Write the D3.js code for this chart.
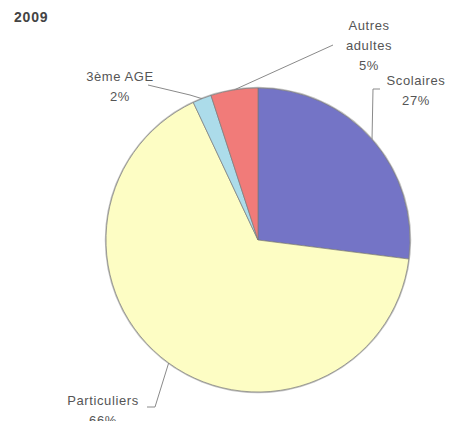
<!DOCTYPE html>
<html>
<head>
<meta charset="utf-8">
<script src="https://cdn.jsdelivr.net/npm/d3@7"></script>
<style>
  body { margin: 0; background: #fff; }
  text { font-family: "Liberation Sans", Arial, sans-serif; fill: #555; }
</style>
</head>
<body>
<svg id="chart" width="452" height="421"></svg>
<script>
// slices, clockwise from 12 o'clock
var categories = ["Scolaires", "Particuliers", "3ème AGE", "Autres adultes"];
var values = [27, 66, 2, 5];
var colors = ["#7474c6", "#fdfdc4", "#acdcea", "#f17b79"];
var title = "2009";

// label lines (wrapped text) and where each label block sits
var labelLines = [["Scolaires"], ["Particuliers"], ["3ème AGE"], ["Autres", "adultes"]];
var labelPos = [
    {x: 416, y: 85, elbow: [[373, 89], [380, 89]]},
    {x: 103, y: 405, elbow: [[155, 407], [147, 407]]},
    {x: 120, y: 81, elbow: [[190, 95], [148, 85]]},
    {x: 369, y: 30, elbow: [[333, 45]]}
];

var svg = d3.select("#chart");
var cx = 258, cy = 240, r = 152;

svg.append("text")
    .attr("x", 14).attr("y", 22)
    .style("font-size", "14px").style("font-weight", "bold")
    .style("letter-spacing", "0.8px").style("fill", "#444")
    .text(title);

var pie = d3.pie().sort(null).value(function(d) { return d; });
var arcs = pie(values);
var arc = d3.arc().innerRadius(0).outerRadius(r);

var g = svg.append("g").attr("transform", "translate(" + cx + "," + cy + ")");

// soft shadow ring
g.append("circle").attr("r", r + 0.5)
    .attr("fill", "none").attr("stroke", "#999").attr("stroke-width", 1.5).attr("opacity", 0.6);

g.selectAll("path.slice").data(arcs).enter().append("path")
    .attr("class", "slice")
    .attr("d", arc)
    .attr("fill", function(d, i) { return colors[i]; })
    .attr("stroke", "#7a7a7a")
    .attr("stroke-width", 0.7);

// leader lines from the slice edge to the label
arcs.forEach(function(d, i) {
    var mid = (d.startAngle + d.endAngle) / 2;
    var p0 = [cx + r * Math.sin(mid), cy - r * Math.cos(mid)];
    var pts = [p0].concat(labelPos[i].elbow);
    svg.append("path")
        .attr("d", d3.line()(pts))
        .attr("fill", "none")
        .attr("stroke", "#8a8a8a")
        .attr("stroke-width", 1);
});

// labels
arcs.forEach(function(d, i) {
    var lines = labelLines[i].concat([d3.format(".0f")(values[i]) + "%"]);
    var t = svg.append("text")
        .attr("text-anchor", "middle")
        .style("font-size", "13px")
        .style("letter-spacing", "0.6px");
    lines.forEach(function(s, k) {
        t.append("tspan").attr("x", labelPos[i].x)
            .attr("y", labelPos[i].y + k * 20)
            .text(s);
    });
});
</script>
</body>
</html>
